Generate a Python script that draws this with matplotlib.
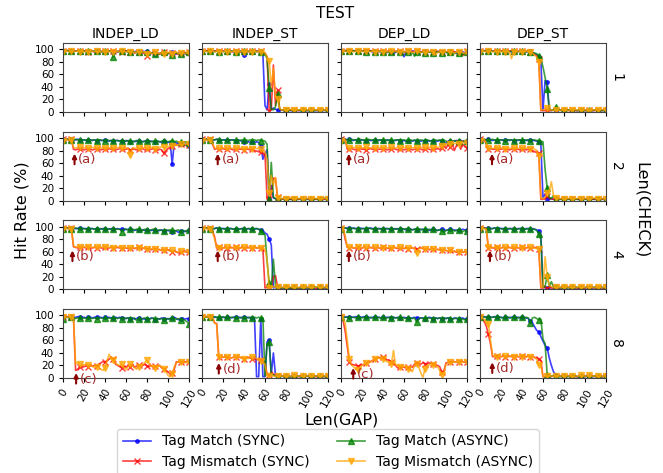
import numpy as np
import matplotlib.pyplot as plt

# Len(GAP) sampled every 2
gap = np.arange(0, 121, 2)
tests = ['INDEP_LD', 'INDEP_ST', 'DEP_LD', 'DEP_ST']
checks = [1, 2, 4, 8]

# ms = tag match (SYNC), xs = tag mismatch (SYNC),
# ma = tag match (ASYNC), xa = tag mismatch (ASYNC)

# ---------------- Len(CHECK) = 1 ----------------
ild1_ms = [98,97,98,97,98,97,97,98,97,97, 97,98,97,97,97,96,97,97,96,97,
           97,96,97,97,96,97,96,97,97,96, 97,97,96,97,96,97,96,97,97,96,
           98,96,94,93,92,94,93,95,94,93, 94,93,95,92,93,94,93,95,93,92, 94]
ild1_xs = [98,97,98,97,98,97,97,98,97,97, 97,98,96,97,97,96,97,97,96,97,
           97,96,97,96,97,97,96,97,96,96, 97,96,95,96,94,95,96,95,94,93,
           90,95,93,96,95,94,92,94,95,93, 94,93,94,95,93,92,94,93,95,94, 95]
ild1_ma = [97,97,98,97,97,96,97,97,97,96, 97,96,97,97,97,97,97,96,97,96,
           97,96,97,97,88,96,97,96,97,96, 97,96,96,97,95,96,96,97,96,95,
           96,95,94,95,93,92,93,94,95,94, 93,94,91,93,94,93,92,95,93,94, 95]
ild1_xa = [96,97,97,96,97,96,97,97,96,97, 96,97,96,96,97,96,97,96,96,97,
           96,97,96,97,96,96,97,96,97,96, 96,97,96,96,95,96,95,96,96,95,
           92,95,94,93,95,94,93,95,92,94, 95,94,93,94,96,93,94,95,93,94, 94]

ist1_ms = [98,97,98,97,97,96,97,98,97,97, 97,97,96,97,97,96,97,97,97,96,
           91,96,97,97,96,97,97,97,96,92, 10,3,45,4,6,4,3,2,3,2,
           2,3,2,2,2,3,2,2,3,2, 2,2,3,2,2,2,3,2,2,3, 2]
ist1_xs = [98,98,97,98,98,97,97,98,97,98, 97,97,97,97,96,97,97,97,96,97,
           97,97,96,97,97,97,97,96,97,96, 94,88,2,3,75,10,35,4,3,2,
           3,2,3,2,3,2,2,3,2,3, 2,3,2,2,3,2,2,3,3,2, 3]
ist1_ma = [97,97,97,96,97,97,96,97,96,97, 96,97,97,96,97,97,96,91,97,96,
           97,97,97,96,97,97,96,97,96,95, 93,85,38,4,3,8,28,4,3,3,
           3,2,3,3,2,3,3,2,3,3, 3,2,3,3,2,3,2,3,3,2, 3]
ist1_xa = [96,97,97,96,97,97,96,97,96,97, 96,97,96,97,96,97,96,97,96,97,
           96,96,97,96,96,97,96,97,96,96, 94,88,82,40,70,25,20,5,3,3,
           3,3,4,3,3,3,3,3,3,4, 3,3,3,4,3,3,3,3,3,3, 3]

dld1_ms = [98,97,98,97,98,97,97,98,97,97, 97,97,98,97,97,96,97,97,96,97,
           96,97,95,96,96,92,96,97,96,95, 88,96,97,96,97,97,96,97,96,95,
           97,96,95,97,96,95,96,97,96,96, 95,96,97,95,96,94,96,95,96,94, 96]
dld1_xs = [98,98,97,98,97,98,97,97,98,97, 97,98,97,97,98,97,97,96,97,97,
           97,96,97,97,96,97,97,96,97,97, 96,97,97,96,97,96,97,97,96,97,
           96,97,96,97,96,96,97,95,96,97, 96,95,96,97,96,95,96,94,90,94, 97]
dld1_ma = [97,97,98,97,97,97,98,97,97,97, 97,97,96,97,97,97,96,97,97,96,
           96,97,95,96,95,96,96,97,95,96, 96,95,96,94,95,89,95,96,95,96,
           94,95,96,95,94,95,96,95,94,96, 95,94,96,95,93,95,94,95,92,93, 96]
dld1_xa = [96,97,97,96,97,97,96,97,97,96, 97,96,97,97,96,97,96,97,96,97,
           96,97,96,96,97,96,97,96,96,97, 96,96,97,96,95,96,97,96,95,96,
           96,95,96,97,96,91,95,96,96,95, 96,97,95,96,94,96,95,96,95,93, 95]

dst1_ms = [98,97,98,97,97,98,97,97,98,97, 97,97,96,97,97,96,97,97,96,97,
           96,97,96,96,97,95,93,91,88,82, 2,50,48,3,2,3,2,2,3,2,
           2,2,3,2,2,3,2,2,2,3, 2,3,2,2,2,3,2,2,2,2, 3]
dst1_xs = [98,98,97,98,97,98,97,98,97,98, 97,98,97,97,97,98,97,96,97,97,
           97,96,97,97,96,94,92,89,85,2, 2,2,3,2,2,3,2,2,3,2,
           2,3,2,2,3,2,2,2,3,2, 2,2,3,2,2,2,3,2,2,3, 2]
dst1_ma = [97,97,97,98,97,97,97,96,97,97, 97,96,97,97,96,97,97,97,96,97,
           97,97,96,97,96,95,94,93,90,85, 72,55,37,4,3,3,8,3,3,2,
           3,2,3,3,2,3,2,3,3,2, 3,2,3,2,3,3,2,3,2,3, 3]
dst1_xa = [96,97,97,96,97,97,96,97,96,97, 96,97,96,97,96,85,96,97,96,97,
           96,96,97,96,96,94,91,88,80,3, 3,4,6,3,3,2,3,3,2,3,
           3,3,2,3,3,4,3,3,3,3, 3,3,2,3,3,3,3,3,4,3, 3]

# ---------------- Len(CHECK) = 2 ----------------
ild2_ms = [98,97,98,97,98,97,97,98,97,97, 97,96,97,97,96,97,96,97,96,96,
           97,96,95,96,95,96,96,95,96,94, 95,96,94,95,94,95,96,95,94,95,
           95,94,95,94,93,95,94,93,95,94, 93,94,58,94,92,91,90,89,90,89, 88]
ild2_xs = [98,97,98,97,98,82,81,82,83,82, 81,82,83,82,81,82,83,82,81,82,
           82,81,83,82,82,81,82,83,82,81, 82,83,81,82,82,81,82,82,83,81,
           82,81,82,83,81,80,82,81,76,80, 83,85,87,88,89,88,90,89,88,90, 89]
ild2_ma = [97,97,98,97,97,97,98,97,97,97, 97,97,97,96,97,97,96,97,97,96,
           96,97,96,96,95,96,96,95,96,95, 96,95,96,94,95,96,95,95,94,95,
           95,96,94,95,96,95,94,95,96,95, 94,95,96,94,95,93,94,93,94,93, 92]
ild2_xa = [96,97,97,96,97,85,84,84,85,84, 84,85,84,84,85,84,84,85,84,84,
           84,85,84,83,84,84,85,84,84,83, 84,83,73,84,84,83,84,83,84,85,
           84,83,85,84,83,84,85,86,85,84, 86,87,88,89,88,89,90,89,90,90, 90]

ist2_ms = [98,97,98,97,98,97,97,98,97,97, 97,97,97,96,97,97,96,97,96,95,
           94,93,94,93,94,93,94,93,88,66, 75,81,2,24,4,3,2,2,3,2,
           2,3,2,2,2,3,2,2,2,3, 2,2,3,2,2,2,2,3,2,2, 2]
ist2_xs = [98,97,98,97,98,90,82,83,82,82, 83,82,82,83,82,81,82,83,82,82,
           81,82,82,81,82,80,79,78,77,76, 75,2,3,10,36,35,5,3,2,3,
           2,3,2,2,3,2,2,3,2,2, 3,2,2,3,2,2,3,2,2,3, 2]
ist2_ma = [97,97,98,97,97,97,97,98,97,97, 97,96,97,97,97,96,97,97,96,97,
           97,97,96,97,96,97,96,97,96,96, 95,90,2,61,5,3,3,2,3,3,
           3,2,3,3,2,3,3,3,2,3, 3,3,2,3,3,2,3,3,4,3, 3]
ist2_xa = [96,97,97,96,97,92,84,83,84,83, 84,83,84,83,84,83,84,83,84,83,
           83,84,83,84,83,84,83,84,82,80, 78,66,12,40,25,37,4,3,3,3,
           3,3,4,3,3,3,3,3,3,4, 3,3,3,4,3,3,3,3,3,3, 3]

dld2_ms = [98,97,98,97,98,97,96,97,97,96, 97,96,96,97,96,96,97,96,96,97,
           96,96,97,96,95,96,96,97,96,95, 96,95,96,96,95,96,95,96,95,96,
           95,96,95,96,95,94,95,96,95,90, 92,95,96,94,95,96,95,96,95,94, 95]
dld2_xs = [98,97,98,82,82,83,82,81,82,83, 82,82,81,82,83,82,82,81,82,82,
           83,82,81,82,82,83,82,81,82,82, 81,82,83,82,81,82,82,83,82,81,
           82,83,82,81,82,82,83,82,84,88, 83,90,85,91,80,88,92,82,90,86, 84]
dld2_ma = [97,97,98,97,97,98,97,97,97,98, 97,97,97,98,97,97,97,96,97,97,
           97,97,96,97,97,96,97,97,96,97, 97,96,97,97,96,97,96,96,97,96,
           96,97,96,95,96,97,96,97,96,97, 95,93,96,95,96,94,96,95,94,96, 95]
dld2_xa = [96,97,97,85,84,84,85,84,84,85, 84,84,85,84,84,85,84,84,85,84,
           84,85,84,84,85,84,84,85,84,84, 85,84,84,85,84,85,84,84,85,84,
           85,84,85,85,84,86,85,86,87,89, 90,91,90,92,91,92,91,92,93,92, 92]

dst2_ms = [98,97,96,97,98,97,96,97,96,97, 97,96,97,97,96,97,96,97,96,97,
           96,97,96,96,97,96,96,95,94,90, 4,10,3,2,3,2,2,3,2,2,
           2,3,2,2,2,3,2,2,3,2, 2,2,2,3,2,2,3,2,2,2, 2]
dst2_xs = [98,97,98,90,82,83,82,82,83,82, 82,83,82,82,81,82,83,82,82,81,
           82,82,81,82,82,80,78,77,76,2, 2,3,8,4,3,2,3,2,2,3,
           2,2,3,2,2,3,2,2,3,2, 3,2,2,3,2,2,3,2,2,3, 2]
dst2_ma = [97,97,98,97,97,97,98,97,97,97, 97,97,96,97,97,97,96,97,97,97,
           97,96,97,97,96,97,97,96,96,95, 94,50,20,5,3,8,3,3,2,3,
           3,3,2,3,3,3,2,3,3,3, 3,2,3,3,3,3,2,3,3,3, 3]
dst2_xa = [96,97,97,92,84,84,83,84,84,83, 84,84,83,84,84,83,84,84,83,84,
           84,83,84,84,83,84,82,80,72,4, 3,5,12,15,30,8,4,3,3,3,
           3,3,3,4,3,3,3,4,3,3, 3,3,3,3,4,3,3,3,3,3, 3]

# ---------------- Len(CHECK) = 4 ----------------
ild4_ms = [98,97,98,97,98,97,97,97,98,97, 97,97,96,97,97,96,97,97,96,97,
           97,96,96,97,96,96,97,96,96,95, 96,95,96,95,94,95,95,94,95,94,
           95,94,94,95,94,93,94,95,93,94, 94,93,92,94,93,91,93,94,92,93, 94]
ild4_xs = [98,97,98,97,98,68,67,66,67,66, 67,66,67,66,66,67,66,67,66,66,
           67,66,66,67,66,66,67,66,66,66, 66,65,66,66,65,66,67,65,66,65,
           64,65,63,64,65,64,63,62,63,62, 63,62,60,61,60,58,59,60,61,59, 60]
ild4_ma = [97,97,98,97,97,97,98,97,97,97, 97,96,97,97,97,96,97,96,97,96,
           96,97,96,96,97,96,96,96,92,96, 96,95,96,96,95,96,96,95,94,96,
           95,94,95,96,95,94,95,94,93,95, 94,95,94,93,94,95,91,94,93,94, 95]
ild4_xa = [96,97,97,96,97,70,67,68,67,67, 68,67,67,68,67,67,68,67,67,68,
           67,68,67,67,66,67,68,67,66,67, 66,67,66,67,66,65,66,67,66,65,
           64,63,65,64,64,63,64,62,62,63, 62,61,62,61,59,60,61,58,60,61, 60]

ist4_ms = [98,97,98,97,98,97,97,98,97,97, 97,97,96,97,97,96,97,97,96,97,
           97,96,97,96,97,96,97,96,95,94, 90,88,80,71,2,3,2,3,2,2,
           2,3,2,2,2,3,2,2,2,3, 2,2,3,2,2,2,3,2,2,2, 2]
ist4_xs = [98,97,98,97,98,93,84,66,67,66, 66,67,66,66,67,66,67,66,66,67,
           66,66,67,66,66,67,66,66,66,65, 2,3,4,3,20,22,4,3,2,3,
           2,3,2,2,3,2,2,3,2,2, 3,2,2,3,2,2,3,2,2,3, 2]
ist4_ma = [97,97,98,97,97,97,97,98,97,97, 97,96,97,97,97,96,97,97,96,97,
           97,96,97,97,96,97,97,96,93,90, 87,45,10,4,48,5,3,3,3,2,
           3,3,2,3,3,3,2,3,3,3, 3,2,3,3,4,3,3,2,3,3, 3]
ist4_xa = [96,97,97,96,97,92,80,67,66,67, 66,66,67,66,66,67,66,67,66,66,
           67,66,66,67,66,66,67,66,66,65, 64,47,2,3,4,3,3,3,3,3,
           3,3,4,3,3,3,3,3,4,3, 3,3,3,3,3,4,3,3,3,3, 3]

dld4_ms = [98,97,98,97,98,97,98,97,97,98, 97,97,96,97,98,97,97,96,97,97,
           96,97,97,96,97,96,97,96,96,97, 96,95,96,96,95,96,95,96,95,96,
           95,96,94,95,96,95,94,95,96,95, 94,95,96,94,95,94,95,94,96,95, 95]
dld4_xs = [98,97,80,67,66,67,66,66,67,66, 66,67,66,66,67,66,66,67,66,66,
           67,66,66,65,66,67,66,65,66,66, 65,66,65,66,66,65,64,65,66,65,
           64,65,63,64,64,63,64,63,62,63, 62,61,62,60,61,59,60,61,59,60, 60]
dld4_ma = [97,97,98,97,97,98,97,97,97,96, 97,97,97,98,97,96,97,97,97,96,
           97,96,97,97,96,97,96,97,96,97, 96,97,96,96,95,96,97,96,96,95,
           96,95,96,95,96,95,94,95,93,91, 94,95,94,95,93,94,95,94,92,94, 93]
dld4_xa = [96,97,86,68,67,67,66,67,67,66, 67,66,67,67,66,67,67,66,67,66,
           66,67,66,67,66,66,67,66,67,66, 66,65,66,67,66,66,58,65,66,65,
           65,64,65,63,64,64,63,63,62,63, 62,61,62,61,60,61,60,59,60,59, 60]

dst4_ms = [98,97,98,97,98,97,97,98,97,98, 97,97,97,96,97,97,97,96,97,97,
           97,96,97,97,96,97,96,95,93,88, 3,3,2,2,3,2,3,2,2,3,
           2,2,3,2,2,2,3,2,2,2, 2,3,2,2,2,3,2,2,3,2, 2]
dst4_xs = [98,97,98,97,66,67,66,66,67,66, 66,67,66,66,67,66,66,67,66,66,
           67,66,66,67,66,66,67,66,65,2, 2,3,2,3,2,2,3,2,2,3,
           2,2,3,2,2,3,2,2,3,2, 2,3,2,2,3,2,2,3,2,2, 3]
dst4_ma = [97,97,98,97,97,97,97,98,97,97, 97,96,97,97,97,96,97,97,96,97,
           97,97,96,97,97,96,96,94,88,80, 3,4,22,5,12,4,3,3,3,2,
           3,3,3,2,3,3,3,3,2,3, 3,3,2,3,3,3,2,3,3,3, 3]
dst4_xa = [96,97,97,96,67,66,67,67,66,67, 66,67,67,66,67,66,67,67,66,67,
           66,67,66,66,67,66,66,65,64,3, 3,52,20,6,4,3,3,3,3,3,
           3,4,3,3,3,3,3,4,3,3, 3,3,3,3,3,3,4,3,3,3, 3]

# ---------------- Len(CHECK) = 8 ----------------
ild8_ms = [98,97,98,97,98,97,97,98,97,97, 97,96,97,97,96,97,97,96,97,96,
           97,96,97,96,96,97,96,97,96,96, 95,96,95,96,94,95,96,91,95,94,
           95,94,96,95,93,95,94,96,95,94, 95,94,96,97,95,93,94,96,94,95, 95]
ild8_xs = [98,97,98,97,98,96,12,14,18,17, 18,19,18,20,19,20,19,22,24,26,
           25,28,30,33,30,22,20,18,16,19, 17,20,18,22,17,19,21,18,20,22,
           19,18,20,17,19,18,20,16,14,12, 10,6,8,14,26,25,26,24,26,25, 26]
ild8_ma = [94,96,97,96,97,96,95,96,96,95, 96,95,96,96,95,96,95,96,96,95,
           96,95,96,95,96,96,95,96,95,96, 95,96,94,95,96,92,95,94,95,96,
           95,94,95,96,94,95,94,95,93,95, 94,95,96,95,94,95,93,94,92,90, 86]
ild8_xa = [98,97,97,98,98,96,22,25,22,20, 21,22,20,22,18,17,18,16,14,12,
           16,28,38,30,28,24,21,20,22,17, 13,18,22,20,16,14,18,20,22,25,
           28,24,18,20,16,18,20,17,15,10, 4,2,6,18,24,26,25,27,24,25, 26]

ist8_ms = [98,97,98,97,97,98,97,97,96,97, 97,96,97,97,96,97,97,96,97,96,
           97,96,97,96,96,96,2,2,95,2, 2,58,60,5,40,4,3,2,3,2,
           3,2,2,3,2,2,3,2,2,2, 3,2,2,2,3,2,2,2,3,2, 2]
ist8_xs = [98,97,98,97,98,97,88,87,33,33, 33,34,33,33,32,33,34,33,33,32,
           31,32,33,32,30,30,29,30,28,27, 25,5,4,10,6,3,3,2,3,2,
           2,3,2,2,3,2,2,3,2,2, 3,2,2,3,2,2,2,3,2,2, 3]
ist8_ma = [97,97,98,97,97,97,98,97,97,97, 98,97,97,96,97,97,96,97,96,97,
           96,97,96,97,96,97,96,97,96,96, 3,55,57,3,5,3,3,2,3,3,
           3,3,2,3,3,3,3,2,3,3, 3,3,3,2,3,3,3,3,3,2, 3]
ist8_xa = [98,97,98,97,98,97,88,86,33,34, 33,33,34,33,32,33,33,34,33,32,
           30,32,31,33,34,34,31,28,27,25, 22,3,3,4,3,3,3,3,3,3,
           3,3,3,3,4,3,3,3,3,3, 3,3,3,3,3,3,3,4,3,3, 3]

dld8_ms = [98,97,98,97,98,97,97,98,97,97, 97,98,97,97,96,97,97,96,97,96,
           97,96,97,97,96,97,96,97,96,96, 97,96,96,95,96,97,96,95,96,96,
           95,96,97,96,95,96,95,96,95,96, 95,96,95,94,96,95,94,95,96,94, 95]
dld8_xs = [98,92,75,50,26,22,21,20,19,20, 21,22,24,25,26,28,30,31,32,33,
           33,31,29,28,26,24,20,16,17,18, 17,16,17,18,17,22,24,23,22,24,
           23,22,24,23,22,21,20,18,10,11, 24,25,26,25,26,25,26,27,26,25, 26]
dld8_ma = [97,96,97,97,96,97,97,96,97,97, 96,97,97,96,97,96,97,96,97,96,
           97,96,96,97,96,97,96,96,97,96, 96,95,96,96,95,96,89,95,96,95,
           96,95,96,95,94,96,95,96,95,96, 95,96,95,94,95,96,94,95,94,93, 94]
dld8_xa = [98,95,88,60,30,21,18,14,13,16, 20,22,24,23,25,28,30,31,32,30,
           30,28,26,24,22,44,21,20,18,20, 18,20,14,12,10,20,22,18,8,1,
           14,20,21,20,21,19,18,12,5,8, 22,24,25,24,26,25,26,24,25,26, 25]

dst8_ms = [98,97,98,97,98,97,97,98,97,97, 97,96,97,97,96,97,97,96,97,96,
           97,96,96,95,91,88,82,76,74,66, 59,52,48,32,20,10,5,3,3,2,
           3,2,3,2,2,3,2,2,3,2, 2,3,2,2,2,3,2,2,2,3, 2]
dst8_xs = [98,96,90,83,70,55,34,34,35,34, 34,35,34,34,35,34,34,35,34,34,
           35,34,34,35,34,34,33,32,30,28, 2,2,3,2,2,3,2,2,3,2,
           2,2,3,2,2,3,2,2,2,3, 2,3,2,2,3,2,2,3,2,2, 3]
dst8_ma = [97,97,98,97,97,97,97,98,97,97, 97,96,97,97,97,96,97,97,96,97,
           97,96,97,96,88,96,97,95,93,94, 62,55,5,3,3,4,3,3,2,3,
           3,3,2,3,3,3,3,2,3,3, 3,3,3,2,3,3,3,3,2,3, 3]
dst8_xa = [98,96,94,90,87,60,36,34,34,35, 34,34,35,34,34,35,34,33,34,35,
           34,34,33,35,34,34,32,30,21,20, 2,3,3,3,3,3,3,3,3,3,
           3,4,3,3,3,2,3,3,4,3, 3,3,4,3,3,3,3,2,3,3, 3]

panels = {
    (1, 'INDEP_LD'): [ild1_ms, ild1_xs, ild1_ma, ild1_xa],
    (1, 'INDEP_ST'): [ist1_ms, ist1_xs, ist1_ma, ist1_xa],
    (1, 'DEP_LD'): [dld1_ms, dld1_xs, dld1_ma, dld1_xa],
    (1, 'DEP_ST'): [dst1_ms, dst1_xs, dst1_ma, dst1_xa],
    (2, 'INDEP_LD'): [ild2_ms, ild2_xs, ild2_ma, ild2_xa],
    (2, 'INDEP_ST'): [ist2_ms, ist2_xs, ist2_ma, ist2_xa],
    (2, 'DEP_LD'): [dld2_ms, dld2_xs, dld2_ma, dld2_xa],
    (2, 'DEP_ST'): [dst2_ms, dst2_xs, dst2_ma, dst2_xa],
    (4, 'INDEP_LD'): [ild4_ms, ild4_xs, ild4_ma, ild4_xa],
    (4, 'INDEP_ST'): [ist4_ms, ist4_xs, ist4_ma, ist4_xa],
    (4, 'DEP_LD'): [dld4_ms, dld4_xs, dld4_ma, dld4_xa],
    (4, 'DEP_ST'): [dst4_ms, dst4_xs, dst4_ma, dst4_xa],
    (8, 'INDEP_LD'): [ild8_ms, ild8_xs, ild8_ma, ild8_xa],
    (8, 'INDEP_ST'): [ist8_ms, ist8_xs, ist8_ma, ist8_xa],
    (8, 'DEP_LD'): [dld8_ms, dld8_xs, dld8_ma, dld8_xa],
    (8, 'DEP_ST'): [dst8_ms, dst8_xs, dst8_ma, dst8_xa],
}

# arrow notes: (check, test) -> (label, x, arrow tip y)
notes = {
    (2, 'INDEP_LD'): ('(a)', 11, 75), (2, 'INDEP_ST'): ('(a)', 15, 75),
    (2, 'DEP_LD'): ('(a)', 7.5, 75), (2, 'DEP_ST'): ('(a)', 11.5, 75),
    (4, 'INDEP_LD'): ('(b)', 9, 62), (4, 'INDEP_ST'): ('(b)', 15, 62),
    (4, 'DEP_LD'): ('(b)', 7.5, 62), (4, 'DEP_ST'): ('(b)', 9.5, 62),
    (8, 'INDEP_LD'): ('(c)', 12.5, 8), (8, 'INDEP_ST'): ('(d)', 16, 24),
    (8, 'DEP_LD'): ('(c)', 11.7, 16), (8, 'DEP_ST'): ('(d)', 11.7, 25),
}

labels = ['Tag Match (SYNC)', 'Tag Mismatch (SYNC)', 'Tag Match (ASYNC)', 'Tag Mismatch (ASYNC)']
colors = ['blue', 'red', 'green', 'orange']
markers = ['.', 'x', '^', 'v']

fig, axes = plt.subplots(4, 4, figsize=(6.63, 4.73), sharex=True, sharey=True)
fig.subplots_adjust(left=0.095, right=0.914, top=0.909, bottom=0.201,
                    wspace=0.103, hspace=0.29)

for r, chk in enumerate(checks):
    for c, t in enumerate(tests):
        ax = axes[r, c]
        for s, vals in enumerate(panels[(chk, t)]):
            ax.plot(gap, vals, color=colors[s], marker=markers[s], markevery=4,
                    markersize=5, lw=1.2, alpha=0.75, label=labels[s])
        if (chk, t) in notes:
            lab, nx, ny = notes[(chk, t)]
            ax.annotate('', xy=(nx, ny), xytext=(nx, ny - 17), annotation_clip=False,
                        arrowprops=dict(arrowstyle='-|>', color='#8b0000', lw=1.5,
                                        mutation_scale=6, shrinkA=0, shrinkB=0))
            ax.text(nx + 3.5, ny - 10, lab, color='#a52a2a', fontsize=9.5,
                    va='center', ha='left')
        ax.set_xlim(0, 120)
        ax.set_ylim(0, 110)
        ax.set_xticks(range(0, 121, 20))
        ax.set_yticks(range(0, 101, 20))
        ax.tick_params(labelsize=7.5, length=3)
        ax.tick_params(axis='x', labelrotation=60)
        for sp in ax.spines.values():
            sp.set_color('#444444')
        if r == 0:
            ax.set_title(t, fontsize=10, pad=4)
        if c == 3:
            ax.text(1.08, 0.5, str(chk), transform=ax.transAxes, rotation=270,
                    va='center', ha='center', fontsize=10)

fig.text(0.505, 0.972, 'TEST', ha='center', va='center', fontsize=11)
fig.text(0.033, 0.556, 'Hit Rate (%)', rotation=90, ha='center', va='center', fontsize=11.5)
fig.text(0.967, 0.556, 'Len(CHECK)', rotation=270, ha='center', va='center', fontsize=11.5)
fig.text(0.515, 0.112, 'Len(GAP)', ha='center', va='center', fontsize=11.5)

handles, labs = axes[0, 0].get_legend_handles_labels()
fig.legend(handles, labs, loc='upper center', bbox_to_anchor=(0.495, 0.108),
           ncol=2, fontsize=10, columnspacing=2.0)

fig.savefig('out.png', dpi=100)
